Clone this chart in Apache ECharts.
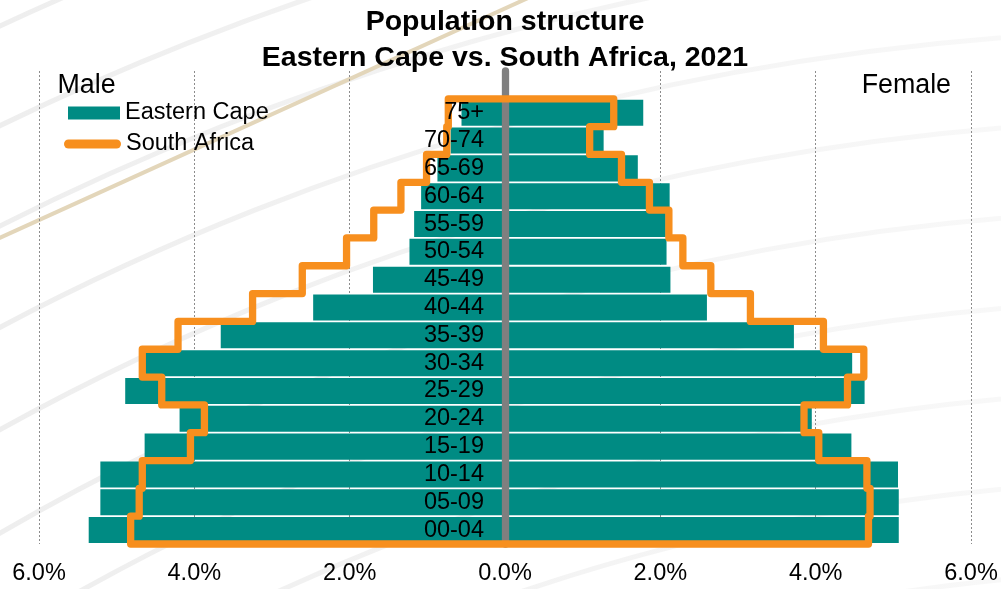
<!DOCTYPE html>
<html>
<head>
<meta charset="utf-8">
<title>Population structure – Eastern Cape vs. South Africa, 2021</title>
<script src="https://cdn.jsdelivr.net/npm/echarts@6/dist/echarts.min.js"></script>
<style>
  html, body { margin: 0; padding: 0; background: #ffffff; }
  #chart { width: 1001px; height: 589px; }
</style>
</head>
<body>
<div id="chart"></div>
<script>
// Age groups, youngest at the bottom of the pyramid
const categories = ['00-04', '05-09', '10-14', '15-19', '20-24', '25-29', '30-34', '35-39',
                    '40-44', '45-49', '50-54', '55-59', '60-64', '65-69', '70-74', '75+'];

// Share of total population (%), Eastern Cape
const ecMale   = [5.36, 5.21, 5.21, 4.64, 4.19, 4.89, 4.64, 3.66, 2.47, 1.70, 1.23, 1.17, 1.08, 0.87, 0.70, 0.56];
const ecFemale = [5.07, 5.07, 5.06, 4.46, 3.95, 4.63, 4.47, 3.72, 2.60, 2.13, 2.08, 2.07, 2.12, 1.71, 1.27, 1.78];

// Share of total population (%), South Africa
const saMale   = [4.82, 4.71, 4.67, 4.05, 3.87, 4.42, 4.67, 4.21, 3.25, 2.61, 2.04, 1.69, 1.34, 1.01, 0.75, 0.73];
const saFemale = [4.68, 4.70, 4.66, 4.04, 3.85, 4.41, 4.62, 4.10, 3.16, 2.65, 2.29, 2.11, 1.86, 1.50, 1.09, 1.40];

// Axis ticks (%), shown as absolute values on both sides
const xTicks = { min: -6, max: 6, step: 2 };

const FONT = '"Liberation Sans", Arial, Helvetica, sans-serif';
const TEAL = '#008B83';
const ORANGE = '#F78F1E';

// Plot area; the zero line sits halfway across it
const GRID = { left: 39, right: 30, top: 71, bottom: 45 };
const PLOT_W = 1001 - GRID.left - GRID.right;

// Decorative background: faint concentric sweeps fading to the right, plus one tan accent stroke
const sweepFade = {
  type: 'linear', x: 0, y: 0, x2: 1001, y2: 0, global: true,
  colorStops: [
    { offset: 0, color: '#EEEEEE' },
    { offset: 0.5, color: '#F3F3F3' },
    { offset: 1, color: '#F8F8F8' }
  ]
};
const sweepRadii = [1940, 2030, 2120, 2210, 2300, 2390, 2480, 2570, 2660, 2750, 2840];
const backdrop = sweepRadii.map(r => ({
  type: 'circle',
  z: -10,
  silent: true,
  shape: { cx: 1200, cy: 2600, r: r },
  style: { fill: null, stroke: sweepFade, lineWidth: 5 }
}));
backdrop.push({
  type: 'bezierCurve',
  z: -9,
  silent: true,
  shape: { x1: -5, y1: 240, cpx1: 262, cpy1: 120, x2: 528, y2: -2 },
  style: { fill: null, stroke: '#E3D6BA', lineWidth: 4 }
});

const chart = echarts.init(document.getElementById('chart'), null, { renderer: 'canvas' });

const option = {
  animation: false,
  backgroundColor: '#ffffff',
  textStyle: { fontFamily: FONT },
  graphic: { elements: backdrop },
  title: [
    {
      text: 'Population structure\nEastern Cape vs. South Africa, 2021',
      left: 505,
      textAlign: 'center',
      top: 4,
      padding: 0,
      textStyle: { fontFamily: FONT, fontSize: 28.5, fontWeight: 'bold', color: '#000', lineHeight: 36 }
    },
    {
      text: 'Male',
      left: 57.5, top: 72, padding: 0,
      textStyle: { fontFamily: FONT, fontSize: 26.8, fontWeight: 'normal', color: '#000' }
    },
    {
      text: 'Female',
      right: 50, top: 72, padding: 0,
      textStyle: { fontFamily: FONT, fontSize: 26.8, fontWeight: 'normal', color: '#000' }
    }
  ],
  legend: [
    {
      data: [{ name: 'Eastern Cape', icon: 'rect', itemStyle: { color: TEAL } }],
      left: 68, top: 101, padding: 0,
      itemWidth: 52, itemHeight: 13,
      textStyle: { fontFamily: FONT, fontSize: 23.5, color: '#000' },
      selectedMode: false
    },
    {
      data: [{
        name: 'South Africa',
        icon: 'path://M4.5,0H52.5A4.5,4.5,0,0,1,52.5,9H4.5A4.5,4.5,0,0,1,4.5,0Z',
        itemStyle: { color: ORANGE }
      }],
      left: 64, top: 132, padding: 0,
      itemWidth: 57, itemHeight: 9,
      textStyle: { fontFamily: FONT, fontSize: 23.5, color: '#000' },
      selectedMode: false
    }
  ],
  grid: {
    left: GRID.left, right: GRID.right, top: GRID.top, bottom: GRID.bottom,
    containLabel: false,
    outerBoundsMode: 'none'
  },
  xAxis: {
    type: 'value',
    min: xTicks.min, max: xTicks.max, interval: xTicks.step,
    axisLine: { show: false },
    axisTick: { show: false },
    splitLine: { show: true, lineStyle: { color: '#8C8C8C', width: 1, type: [2, 2] } },
    axisLabel: {
      margin: 18,
      fontFamily: FONT, fontSize: 23.5, color: '#000',
      formatter: v => Math.abs(v).toFixed(1) + '%'
    }
  },
  yAxis: [
    {
      // age-group labels hugging the centre spine, drawn above everything
      type: 'category',
      data: categories,
      max: categories.length,
      position: 'left',
      offset: -PLOT_W / 2,
      z: 10,
      axisLine: { show: false, onZero: false },
      axisTick: { show: false },
      splitLine: { show: false },
      axisLabel: {
        interval: 0,
        margin: 21,
        fontFamily: FONT, fontSize: 23.5, color: '#000',
        formatter: v => (v == null ? '' : v)
      }
    },
    {
      // thick grey centre spine
      type: 'category',
      data: categories,
      max: categories.length,
      position: 'left',
      offset: -PLOT_W / 2,
      z: 3,
      axisLine: { show: true, onZero: false, lineStyle: { color: '#7F7F7F', width: 7.3 } },
      axisTick: { show: false },
      axisLabel: { show: false },
      splitLine: { show: false }
    }
  ],
  series: [
    {
      name: 'Eastern Cape',
      type: 'bar',
      stack: 'pyramid',
      yAxisIndex: 0,
      barCategoryGap: '6.5%',
      itemStyle: { color: TEAL },
      z: 2,
      data: ecMale.map(v => -v)
    },
    {
      name: 'Eastern Cape',
      type: 'bar',
      stack: 'pyramid',
      yAxisIndex: 0,
      barCategoryGap: '6.5%',
      itemStyle: { color: TEAL },
      z: 2,
      data: ecFemale
    },
    {
      // South Africa outline as one stepped closed contour
      name: 'South Africa',
      type: 'custom',
      yAxisIndex: 0,
      z: 5,
      silent: true,
      encode: { x: 0, y: 1 },
      data: categories.map((c, i) => [saFemale[i], i]),
      renderItem: function (params, api) {
        if (params.dataIndex !== 0) return null;
        const band = api.size([0, 1])[1];
        const half = band / 2;
        const pts = [];
        for (let i = categories.length - 1; i >= 0; i--) {
          const c = api.coord([-saMale[i], i]);
          pts.push([c[0], c[1] - half], [c[0], c[1] + half]);
        }
        for (let i = 0; i < categories.length; i++) {
          const c = api.coord([saFemale[i], i]);
          pts.push([c[0], c[1] + half], [c[0], c[1] - half]);
        }
        return {
          type: 'polygon',
          shape: { points: pts },
          style: { fill: 'none', stroke: ORANGE, lineWidth: 7.3, lineJoin: 'round' }
        };
      }
    }
  ]
};

chart.setOption(option);
</script>
</body>
</html>
